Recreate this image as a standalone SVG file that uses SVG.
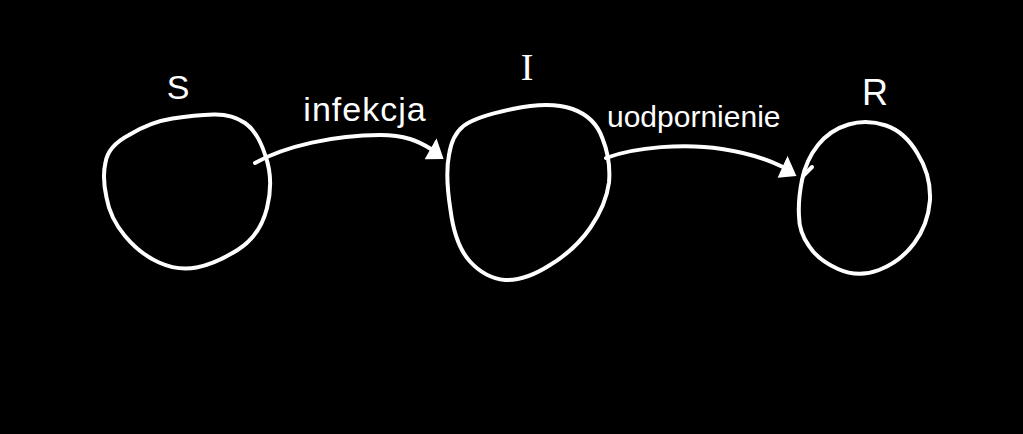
<svg xmlns="http://www.w3.org/2000/svg" width="1023" height="434" viewBox="0 0 1023 434">
<style>
.ink{fill:none;stroke:#fff;stroke-width:4;stroke-linecap:round;stroke-linejoin:round}
.lbl{fill:#fff;font-family:"Liberation Sans",Arial,sans-serif}
.head{fill:#fff}
</style>
<defs>
<marker id="ah" markerUnits="userSpaceOnUse" viewBox="0 0 17 24" markerWidth="17" markerHeight="24" refX="1" refY="12" orient="auto">
<path class="head" d="M0,0 L17,14 L1,24 Z"/>
</marker>
</defs>
<rect width="1023" height="434" fill="#000"/>
<g id="node-S">
<path class="ink" d="M105.5,162.5 Q108,146 129,135 Q150,122 172.5,118.5 Q195,115 213.5,114.5 Q232,114 245,123 Q258,132 265.5,156 Q274,180 267,208 Q260,236 237.5,250 Q215,264 196.5,267.5 Q178,271 159,262.5 Q140,254 125,236 Q110,218 106.5,197.5 Q102,177 105.5,162.5 Z"/>
<text class="lbl" x="178" y="99" font-size="34" text-anchor="middle">S</text>
</g>
<g id="node-I">
<path class="ink" d="M449,155 Q452,135 463.5,126 Q475,117 512.5,109 Q550,101 572.5,109 Q595,117 602.5,138.5 Q611,160 609,182.5 Q606,205 590.5,227.5 Q575,250 550,265 Q525,281 505,280 Q485,278 470,261.5 Q455,245 450.5,210 Q445,175 449,155 Z"/>
<text class="lbl" x="527" y="80" font-size="38" text-anchor="middle" style="font-family:'Liberation Serif','Times New Roman',serif">I</text>
</g>
<g id="node-R">
<path class="ink" d="M802,180 Q806,160 818,145 Q830,130 848.5,124.5 Q867,119 886,125.5 Q905,132 917.5,153.5 Q931,175 930,200 Q928,225 914,243.5 Q900,262 879,270 Q858,278 838,269 Q818,260 809,246 Q799,232 799,216 Q798,200 802,180 Z"/>
<path class="ink" d="M803,176 L812,167"/>
<text class="lbl" x="875" y="105" font-size="36" text-anchor="middle">R</text>
</g>
<g id="connectors">
<path class="ink" marker-end="url(#ah)" d="M255,163 C285,146 335,135 380,135 C405,135 418,141 431,149"/>
<text class="lbl" x="365" y="121" font-size="34" letter-spacing="1" text-anchor="middle">infekcja</text>
<path class="ink" marker-end="url(#ah)" d="M606,158 C635,147 685,143 722,149 C748,153 767,159 783,167"/>
<text class="lbl" x="607" y="127" font-size="30">uodpornienie</text>
</g>
</svg>
